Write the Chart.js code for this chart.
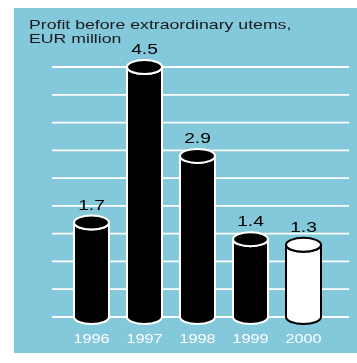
<!DOCTYPE html>
<html>
<head>
<meta charset="utf-8">
<script src="https://cdn.jsdelivr.net/npm/chart.js@4/dist/chart.umd.min.js"></script>
<style>
html,body{margin:0;padding:0;background:#fff;}
canvas{display:block;}
</style>
</head>
<body>
<canvas id="c" width="357" height="363"></canvas>
<script>
const categories = ['1996', '1997', '1998', '1999', '2000'];
const profit = [1.7, 4.5, 2.9, 1.4, 1.3];
const valueLabels = ['1.7', '4.5', '2.9', '1.4', '1.3'];
const gridTicks = [0, 0.5, 1, 1.5, 2, 2.5, 3, 3.5, 4, 4.5];
const titleLines = ['Profit before extraordinary utems,', 'EUR million'];

const PANEL = '#84c9db';
const fills = ['#000', '#000', '#000', '#000', '#fff'];
const strokes = ['#fff', '#fff', '#fff', '#fff', '#000'];

function stretchText(ctx, text, x, y, sx, align) {
  ctx.save();
  ctx.translate(x, y);
  ctx.scale(sx, 1);
  ctx.textAlign = align;
  ctx.textBaseline = 'alphabetic';
  ctx.fillText(text, 0, 0);
  ctx.restore();
}

const cylPlugin = {
  id: 'cyl',
  beforeDraw(chart) {
    const ctx = chart.ctx;
    ctx.save();
    ctx.fillStyle = '#fff';
    ctx.fillRect(0, 0, chart.width, chart.height);
    ctx.fillStyle = PANEL;
    ctx.fillRect(14, 8, chart.width - 14, 345);
    ctx.restore();
  },
  beforeDatasetsDraw(chart) {
    const ctx = chart.ctx;
    const ys = chart.scales.y;
    ctx.save();
    ctx.strokeStyle = '#fff';
    ctx.lineWidth = 1.8;
    gridTicks.forEach(v => {
      const y = ys.getPixelForValue(v);
      ctx.beginPath();
      ctx.moveTo(52, y);
      ctx.lineTo(349, y);
      ctx.stroke();
    });
    ctx.restore();
  },
  afterDatasetsDraw(chart) {
    const ctx = chart.ctx;
    const meta = chart.getDatasetMeta(0);
    const ry = 7;
    meta.data.forEach((bar, i) => {
      const p = bar.getProps(['x', 'y', 'base', 'width'], true);
      const rx = p.width / 2;
      const l = p.x - rx, r = p.x + rx;
      ctx.save();
      ctx.fillStyle = fills[i];
      ctx.strokeStyle = strokes[i];
      ctx.lineWidth = 2;
      ctx.beginPath();
      ctx.moveTo(l, p.y);
      ctx.lineTo(l, p.base);
      ctx.ellipse(p.x, p.base, rx, ry, 0, Math.PI, 0, true);
      ctx.lineTo(r, p.y);
      ctx.ellipse(p.x, p.y, rx, ry, 0, 0, Math.PI, false);
      ctx.closePath();
      ctx.fill();
      ctx.stroke();
      ctx.beginPath();
      ctx.ellipse(p.x, p.y, rx, ry, 0, 0, Math.PI * 2);
      ctx.fill();
      ctx.stroke();
      ctx.fillStyle = '#000';
      ctx.font = '15px "Liberation Sans", Arial, sans-serif';
      stretchText(ctx, valueLabels[i], p.x, p.y - ry - 6, 1.28, 'center');
      ctx.restore();
    });
  },
  afterDraw(chart) {
    const ctx = chart.ctx;
    const xs = chart.scales.x;
    ctx.save();
    ctx.fillStyle = '#1a1a1a';
    ctx.font = '13px "Liberation Sans", Arial, sans-serif';
    stretchText(ctx, titleLines[0], 29, 29, 1.36, 'left');
    stretchText(ctx, titleLines[1], 29, 43, 1.36, 'left');
    ctx.fillStyle = '#fff';
    ctx.font = '13.5px "Liberation Sans", Arial, sans-serif';
    categories.forEach((c, i) => {
      stretchText(ctx, c, xs.getPixelForValue(i), 343, 1.2, 'center');
    });
    ctx.restore();
  }
};

new Chart(document.getElementById('c'), {
  type: 'bar',
  data: {
    labels: categories,
    datasets: [{
      data: profit,
      backgroundColor: fills,
      borderWidth: 0,
      categoryPercentage: 1,
      barPercentage: 0.66
    }]
  },
  options: {
    responsive: false,
    devicePixelRatio: 1,
    animation: false,
    layout: { padding: { left: 65, right: 27, top: 67, bottom: 46 } },
    plugins: { legend: { display: false }, title: { display: false }, tooltip: { enabled: false } },
    scales: {
      x: { display: false, offset: true },
      y: { display: false, min: 0, max: 4.5 }
    }
  },
  plugins: [cylPlugin]
});
</script>
</body>
</html>
